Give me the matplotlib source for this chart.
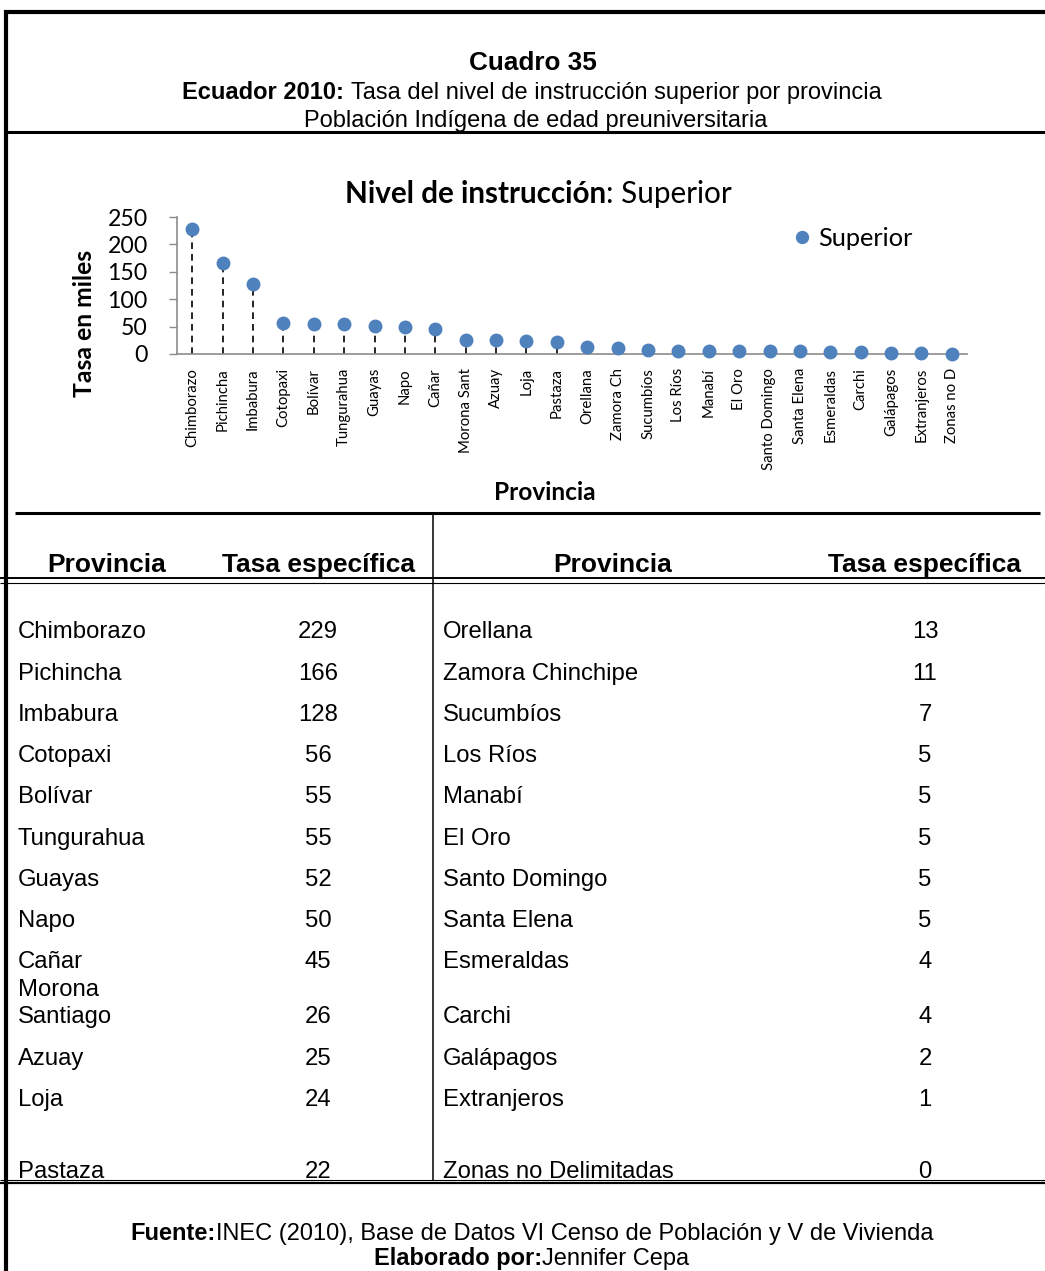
"""
Cuadro 35: tasa del nivel de instrucción superior por provincia
"""

import matplotlib
matplotlib.use('Agg')
import matplotlib.pyplot as plt
from matplotlib.lines import Line2D
import numpy as np

W, H = 1045, 1271

# datos de la tabla (columna izquierda y derecha)
left_names = ['Chimborazo', 'Pichincha', 'Imbabura', 'Cotopaxi', 'Bolívar', 'Tungurahua',
              'Guayas', 'Napo', 'Cañar', 'Morona\nSantiago', 'Azuay', 'Loja', 'Pastaza']
left_vals = [229, 166, 128, 56, 55, 55, 52, 50, 45, 26, 25, 24, 22]
right_names = ['Orellana', 'Zamora Chinchipe', 'Sucumbíos', 'Los Ríos', 'Manabí', 'El Oro',
               'Santo Domingo', 'Santa Elena', 'Esmeraldas', 'Carchi', 'Galápagos',
               'Extranjeros', 'Zonas no Delimitadas']
right_vals = [13, 11, 7, 5, 5, 5, 5, 5, 4, 4, 2, 1, 0]

# etiquetas del gráfico (abreviadas como en el original)
chart_labels = ['Chimborazo', 'Pichincha', 'Imbabura', 'Cotopaxi', 'Bolívar', 'Tungurahua',
                'Guayas', 'Napo', 'Cañar', 'Morona Sant', 'Azuay', 'Loja', 'Pastaza',
                'Orellana', 'Zamora Ch', 'Sucumbíos', 'Los Ríos', 'Manabí', 'El Oro',
                'Santo Domingo', 'Santa Elena', 'Esmeraldas', 'Carchi', 'Galápagos',
                'Extranjeros', 'Zonas no D']
chart_vals = left_vals + right_vals
y_ticks = [0, 50, 100, 150, 200, 250]

# posiciones verticales de las filas (px desde arriba)
row_y = [629, 671, 712, 753, 794, 836, 877, 918, 959, 1014, 1056, 1097, 1169]

TAB_FONT = 'Liberation Sans'
CHART_FONT = 'Lato'

fig = plt.figure(figsize=(W / 100, H / 100), dpi=100)
fig.patch.set_facecolor('white')


def fx(x):
    return x / W


def fy(y):
    return 1 - y / H


def base(y, size):
    """y de la línea base para centrar la altura de mayúsculas en y"""
    return fy(y + 0.716 * size * 100 / 72 / 2)


def hline(y, x0, x1, lw):
    fig.add_artist(Line2D([fx(x0), fx(x1)], [fy(y), fy(y)], lw=lw, color='black',
                          transform=fig.transFigure, solid_capstyle='butt'))


def vline(x, y0, y1, lw):
    fig.add_artist(Line2D([fx(x), fx(x)], [fy(y0), fy(y1)], lw=lw, color='black',
                          transform=fig.transFigure, solid_capstyle='butt'))


def mixed(xc, y, parts, size, family):
    """texto con partes en negrita y normal, centrado en xc"""
    r = fig.canvas.get_renderer()
    sp_a = fig.text(0, 0, 'a a', fontsize=size, family=family)
    sp_b = fig.text(0, 0, 'aa', fontsize=size, family=family)
    space = sp_a.get_window_extent(r).width - sp_b.get_window_extent(r).width
    sp_a.remove()
    sp_b.remove()
    texts, widths = [], []
    for s, w in parts:
        gap = space if s.startswith(' ') else 0
        t = fig.text(0, base(y, size), s.strip(), fontsize=size, fontweight=w, family=family,
                     va='baseline', ha='left')
        texts.append(t)
        widths.append((gap, t.get_window_extent(r).width))
    total = sum(g + wd for g, wd in widths)
    x = xc - total / 2
    for t, (g, wd) in zip(texts, widths):
        x += g
        t.set_x(fx(x))
        x += wd


# bordes
vline(5.5, 10, H, 3)
hline(12, 4, W, 3)
hline(131.5, 4, W, 2.2)
hline(513, 15, 1040, 2.2)
vline(433, 514, 1180, 1.1)
hline(578, 0, W, 1.4)
hline(582.5, 0, W, 0.8)
hline(1179.5, 0, W, 0.8)
hline(1183, 0, W, 1.6)

# encabezado
fig.text(fx(533), base(61, 18.8), 'Cuadro 35', fontsize=18.8, fontweight='bold', family=TAB_FONT,
         ha='center', va='baseline')
mixed(532, 91, [('Ecuador 2010:', 'bold'), (' Tasa del nivel de instrucción superior por provincia', 'normal')],
      17, TAB_FONT)
fig.text(fx(536), base(119, 17), 'Población Indígena de edad preuniversitaria', fontsize=17,
         family=TAB_FONT, ha='center', va='baseline')

# gráfico
mixed(538, 192, [('Nivel de instrucción', 'bold'), (': Superior', 'normal')], 21.3, CHART_FONT)

ax = fig.add_axes([fx(177), fy(354), fx(967) - fx(177), fy(217) - fy(354)])
x = np.arange(len(chart_vals))
ax.vlines(x, 0, chart_vals, colors='black', linestyles=(0, (4, 3)), lw=1.2, zorder=2)
ax.plot(x, chart_vals, 'o', color='#4F81BD', ms=9, zorder=3, label='Superior', clip_on=False)
ax.set_xlim(-0.5, len(x) - 0.5)
ax.set_ylim(0, 250)
ax.set_yticks(y_ticks)
ax.set_yticklabels([str(v) for v in y_ticks], fontsize=16.7, family=CHART_FONT)
ax.set_xticks(x)
ax.set_xticklabels(chart_labels, rotation=90, fontsize=10.7, family=CHART_FONT)
ax.tick_params(axis='y', length=6, color='#8c8c8c', width=1, pad=15)
ax.tick_params(axis='x', length=0, pad=10)
for s in ['top', 'right']:
    ax.spines[s].set_visible(False)
for s in ['left', 'bottom']:
    ax.spines[s].set_color('#8c8c8c')
    ax.spines[s].set_linewidth(1.2)
ax.set_facecolor('none')
ax.legend(loc='center left', bbox_to_anchor=(fx(794), fy(238)), bbox_transform=fig.transFigure,
          frameon=False, prop={'family': CHART_FONT, 'size': 18.3}, handlelength=0.65,
          handletextpad=0.3, borderpad=0, borderaxespad=0, markerscale=0.95)

fig.text(fx(84), fy(323), 'Tasa en miles', rotation=90, fontsize=17.8, fontweight='bold',
         family=CHART_FONT, ha='center', va='center')
fig.text(fx(545), fy(492), 'Provincia', fontsize=17.6, fontweight='bold', family=CHART_FONT,
         ha='center', va='center')

# tabla
for xc, lab in [(107, 'Provincia'), (318, 'Tasa específica'), (613, 'Provincia'), (925, 'Tasa específica')]:
    fig.text(fx(xc), base(563, 19), lab, fontsize=19, fontweight='bold', family=TAB_FONT,
             ha='center', va='baseline')


def draw_col(names, vals, x_name, x_val, size=17.2):
    for name, val, yy in zip(names, vals, row_y):
        lines = name.split('\n')
        for k, ln in enumerate(reversed(lines)):
            fig.text(fx(x_name), base(yy - 27 * k, size), ln, fontsize=size, family=TAB_FONT,
                     ha='left', va='baseline')
        fig.text(fx(x_val), base(yy, size), str(val), fontsize=size, family=TAB_FONT,
                 ha='center', va='baseline')


draw_col(left_names, left_vals, 18, 318)
draw_col(right_names, right_vals, 443, 925)

# pie
mixed(532, 1232, [('Fuente:', 'bold'), ('INEC (2010), Base de Datos VI Censo de Población y V de Vivienda', 'normal')],
      17, TAB_FONT)
mixed(532, 1257, [('Elaborado por:', 'bold'), ('Jennifer Cepa', 'normal')], 17, TAB_FONT)

fig.savefig('out.png', dpi=100, facecolor='white')
